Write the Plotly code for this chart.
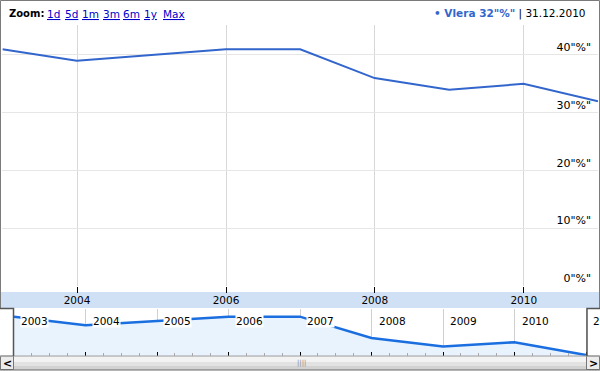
import plotly.graph_objects as go

# ---- data ----
dates = ["2002-12-31", "2003-12-31", "2004-12-31", "2005-12-31", "2006-12-31",
         "2007-12-31", "2008-12-31", "2009-12-31", "2010-12-31"]
values = [41, 39, 40, 41, 41, 36, 34, 35, 32]

y_tickvals = [0, 10, 20, 30, 40]
y_ticktext = ['0"%"', '10"%"', '20"%"', '30"%"', '40"%"']

main_x_tickvals = ["2004-01-01", "2006-01-01", "2008-01-01", "2010-01-01"]
main_x_ticktext = ["2004", "2006", "2008", "2010"]

nav_years = ["2003", "2004", "2005", "2006", "2007", "2008", "2009", "2010", "2011"]
zoom_links = ["1d", "5d", "1m", "3m", "6m", "1y", "Max"]
zoom_link_px = [45, 63, 80, 101, 121, 142, 161]

legend_name = "Vlera"
legend_value = '32"%"'
legend_date = "31.12.2010"

W, H = 600, 371
FONT = "DejaVu Sans"


def px(x):
    return x / W


def py(y):
    return 1 - y / H


def path(points):
    return "M" + " L".join(f"{px(x):.5f},{py(y):.5f}" for x, y in points)


fig = go.Figure()

fig.add_trace(go.Scatter(
    x=dates, y=values, mode="lines", xaxis="x", yaxis="y",
    line=dict(color="#3366cc", width=2), hoverinfo="skip", showlegend=False))

fig.add_trace(go.Scatter(
    x=dates, y=values, mode="lines", xaxis="x2", yaxis="y2",
    line=dict(color="#1a6ee0", width=2.5), fill="tozeroy",
    fillcolor="#e8f3fd", hoverinfo="skip", showlegend=False))

shapes = []
# blue date band under the main chart
shapes.append(dict(type="rect", xref="paper", yref="paper",
                   x0=px(1), x1=px(599), y0=py(308), y1=py(292),
                   fillcolor="#d0e1f6", line=dict(width=0), layer="below"))
# scrollbar
shapes.append(dict(type="rect", xref="paper", yref="paper",
                   x0=px(0), x1=px(600), y0=py(370), y1=py(356),
                   fillcolor="#e2e2e2", line=dict(width=0), layer="above"))
shapes.append(dict(type="rect", xref="paper", yref="paper",
                   x0=px(0), x1=px(600), y0=py(362), y1=py(356.5),
                   fillcolor="#f3f3f3", line=dict(width=0), layer="above"))
shapes.append(dict(type="rect", xref="paper", yref="paper",
                   x0=px(0), x1=px(600), y0=py(369.5), y1=py(366),
                   fillcolor="#d2d2d2", line=dict(width=0), layer="above"))
for x0, x1 in [(0.5, 13.5), (586.5, 599.5)]:
    shapes.append(dict(type="rect", xref="paper", yref="paper",
                       x0=px(x0), x1=px(x1), y0=py(369.5), y1=py(356),
                       fillcolor="#ececec", line=dict(color="#777777", width=1),
                       layer="above"))
shapes.append(dict(type="path", xref="paper", yref="paper",
                   path=path([(0, 356), (600, 356)]),
                   line=dict(color="#a0a0a0", width=1), layer="above"))
shapes.append(dict(type="path", xref="paper", yref="paper",
                   path=path([(0, 370), (600, 370)]),
                   line=dict(color="#666666", width=1), layer="above"))
# outer frame of the main chart
shapes.append(dict(type="path", xref="paper", yref="paper",
                   path=path([(0.5, 308), (0.5, 0.5), (599.5, 0.5), (599.5, 308)]),
                   line=dict(color="#7a7a7a", width=1), layer="above"))
# navigator window brackets
shapes.append(dict(type="path", xref="paper", yref="paper",
                   path=path([(0, 308.5), (13.5, 308.5), (13.5, 356)]),
                   line=dict(color="#555555", width=1.5), layer="above"))
shapes.append(dict(type="path", xref="paper", yref="paper",
                   path=path([(600, 308.5), (587, 308.5), (587, 356)]),
                   line=dict(color="#555555", width=1.5), layer="above"))

annotations = []
annotations.append(dict(xref="paper", yref="paper", x=px(7), y=py(14),
                        xanchor="left", yanchor="middle", showarrow=False,
                        text="<b>Zoom:</b>",
                        font=dict(family=FONT, size=10, color="#000000")))
for lab, lx in zip(zoom_links, zoom_link_px):
    annotations.append(dict(xref="paper", yref="paper", x=px(lx), y=py(14),
                            xanchor="left", yanchor="middle", showarrow=False,
                            text=f"<span style='text-decoration:underline'>{lab}</span>",
                            font=dict(family=FONT, size=10.5, color="#0000cc")))
annotations.append(dict(xref="paper", yref="paper", x=px(588), y=py(14),
                        xanchor="right", yanchor="middle", showarrow=False,
                        text=(f"<span style='color:#3366cc'><b>\u2022 {legend_name} {legend_value}</b></span>"
                              f" | {legend_date}"),
                        font=dict(family=FONT, size=10.5, color="#000000")))
for yr in nav_years:
    annotations.append(dict(xref="x2", yref="paper", x=f"{yr}-01-01", y=py(321),
                            xanchor="left", yanchor="middle", showarrow=False,
                            xshift=6, bgcolor="#ffffff", borderpad=0,
                            text=yr, font=dict(family=FONT, size=10.5, color="#000000")))
annotations.append(dict(xref="paper", yref="paper", x=px(7), y=py(363),
                        xanchor="center", yanchor="middle", showarrow=False,
                        text="<b>&lt;</b>", font=dict(family=FONT, size=11, color="#000000")))
annotations.append(dict(xref="paper", yref="paper", x=px(593), y=py(363),
                        xanchor="center", yanchor="middle", showarrow=False,
                        text="<b>&gt;</b>", font=dict(family=FONT, size=11, color="#000000")))
annotations.append(dict(xref="paper", yref="paper", x=px(301), y=py(363),
                        xanchor="center", yanchor="middle", showarrow=False,
                        text="||||", font=dict(family=FONT, size=7, color="#888888")))

fig.update_layout(
    width=W, height=H, margin=dict(l=0, r=0, t=0, b=0),
    paper_bgcolor="#ffffff", plot_bgcolor="#ffffff",
    font=dict(family=FONT, size=10.5, color="#000000"),
    showlegend=False,
    xaxis=dict(domain=[px(2.4), px(598)], range=[dates[0], dates[-1]], type="date",
               anchor="y", tickvals=main_x_tickvals, ticktext=main_x_ticktext,
               ticks="outside", ticklen=6, tickcolor="#000000", tickwidth=1,
               ticklabelstandoff=-2,
               showgrid=True, gridcolor="#d8d8d8", zeroline=False, showline=False,
               tickfont=dict(family=FONT, size=10.5, color="#000000"), fixedrange=True),
    yaxis=dict(domain=[py(286), py(25)], range=[0, 45.19], anchor="x", side="right",
               tickvals=y_tickvals, ticktext=y_ticktext, ticklabelposition="inside top",
               ticklabelstandoff=4,
               ticks="", showgrid=True, gridcolor="#e6e6e6", zeroline=False,
               showline=False, tickfont=dict(family=FONT, size=11, color="#000000"),
               fixedrange=True),
    xaxis2=dict(domain=[px(14), 1.0], range=["2002-12-31", "2011-03-13"], type="date",
                anchor="y2", tickvals=[f"{y}-01-01" for y in nav_years],
                ticks="inside", ticklen=4, tickcolor="#000000", tickwidth=1,
                showticklabels=False, showgrid=True, gridcolor="#d0d0d0",
                zeroline=False, showline=False,
                minor=dict(dtick="M3", tick0="2003-01-01", ticks="inside", ticklen=3,
                           tickcolor="#aaaaaa", showgrid=False),
                fixedrange=True),
    yaxis2=dict(domain=[py(356), py(309)], range=[31.77, 42.8], anchor="x2",
                visible=False, fixedrange=True),
    shapes=shapes, annotations=annotations,
)

fig.write_html(
    "out.html",
    config={"displayModeBar": False},
    post_script="document.body.style.margin='0';document.body.style.overflow='hidden';",
)
